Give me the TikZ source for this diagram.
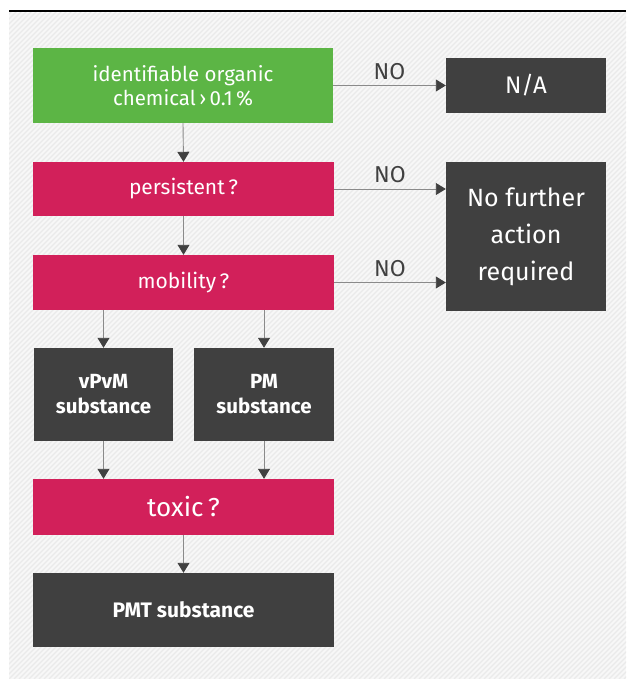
\documentclass[tikz,border=0pt]{standalone}
\usepackage{fontspec}
\setmainfont{Fira Sans}
\usetikzlibrary{arrows.meta}
\definecolor{bggray}{HTML}{F7F7F7}
\definecolor{hatch}{HTML}{EAEAEA}
\definecolor{uxgreen}{HTML}{5CB545}
\definecolor{uxred}{HTML}{D2205A}
\definecolor{uxdark}{HTML}{404040}
\definecolor{uxline}{HTML}{8A8A8A}
\tikzset{
  box/.style={rectangle, draw=none, text=white, align=center, inner sep=2pt},
  greenbox/.style={box, fill=uxgreen},
  redbox/.style={box, fill=uxred},
  darkbox/.style={box, fill=uxdark},
  arr/.style={draw=uxline, line width=0.9pt, -{Triangle[length=10pt,width=12pt,fill=uxdark,color=uxdark]}},
  nolabel/.style={text=uxdark, font=\fontsize{23}{26}\selectfont}
}
\begin{document}
\begin{tikzpicture}[x=1pt,y=-1pt]
\useasboundingbox (0,0) rectangle (626,679);
\fill[white] (0,0) rectangle (626,679);
\fill[bggray] (9,13) rectangle (626,679);
\begin{scope}
\clip (9,13) rectangle (626,679);
\foreach \i in {0,...,270} {
  \draw[hatch, line width=1.3pt] (9+\i*5-700,679) -- ++(700,-700);
}
\end{scope}
\draw[black, line width=2.4pt] (9,11) -- (626,11);

\node[greenbox, minimum width=300pt, minimum height=75pt, font=\fontsize{20.5}{24}\selectfont] (org) at (183,85.5) {identifiable organic\\chemical\,›\,0.1\,\%};
\node[darkbox, minimum width=160pt, minimum height=55pt, font=\fontsize{24}{28}\selectfont] (na) at (526,85.5) {N/A};
\node[redbox, minimum width=301pt, minimum height=54pt, font=\fontsize{21}{24}\selectfont] (pers) at (183.5,189) {persistent\,?};
\node[darkbox, minimum width=160pt, minimum height=149pt, font=\fontsize{25}{37}\selectfont] (nfar) at (526,236.5) {No further\\action\\required};
\node[redbox, minimum width=301pt, minimum height=55pt, font=\fontsize{21}{24}\selectfont] (mob) at (183.5,282.5) {mobility\,?};
\node[darkbox, minimum width=139pt, minimum height=93pt, font=\bfseries\fontsize{20.5}{25}\selectfont] (vpvm) at (103.5,394.5) {vPvM\\substance};
\node[darkbox, minimum width=140pt, minimum height=93pt, font=\bfseries\fontsize{20.5}{25}\selectfont] (pm) at (264,394.5) {PM\\substance};
\node[redbox, minimum width=301pt, minimum height=56pt, font=\fontsize{26}{30}\selectfont] (tox) at (183.5,507) {toxic\,?};
\node[darkbox, minimum width=301pt, minimum height=74pt, font=\bfseries\fontsize{21}{24}\selectfont] (pmt) at (183.5,610) {PMT substance};

\draw[arr] (org.east) -- (na.west) node[midway, above=2pt, nolabel] {NO};
\draw[arr] (pers.east) -- (pers.east -| nfar.west) node[midway, above=2pt, nolabel] {NO};
\draw[arr] (mob.east) -- (mob.east -| nfar.west) node[midway, above=2pt, nolabel] {NO};
\draw[arr] (org.south) -- (pers.north);
\draw[arr] (pers.south) -- (mob.north);
\draw[arr] (mob.south -| vpvm.north) -- (vpvm.north);
\draw[arr] (mob.south -| pm.north) -- (pm.north);
\draw[arr] (vpvm.south) -- (vpvm.south |- tox.north);
\draw[arr] (pm.south) -- (pm.south |- tox.north);
\draw[arr] (tox.south) -- (pmt.north);
\end{tikzpicture}
\end{document}
